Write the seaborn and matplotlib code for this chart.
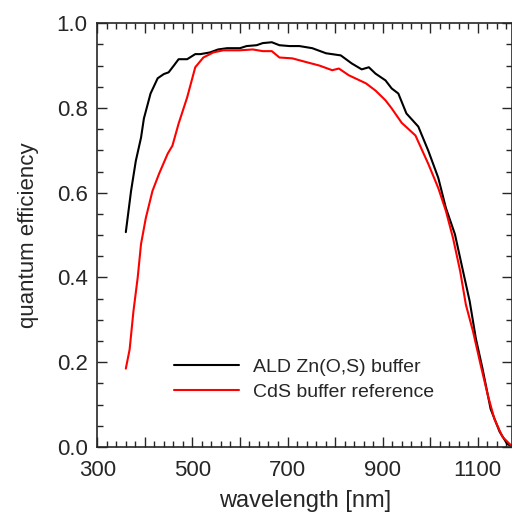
import numpy as np
import matplotlib
matplotlib.use("Agg")
import matplotlib.pyplot as plt
import seaborn as sns
import pandas as pd
from matplotlib.ticker import MultipleLocator, FuncFormatter

# ALD Zn(O,S) buffer curve
wl_ald = [360, 371, 381, 392, 398, 412, 427, 440, 450, 461, 471, 489, 506, 517, 537, 554,
          573, 600, 614, 635, 648, 667, 683, 704, 725, 752, 781, 812, 835, 856, 871, 885,
          906, 919, 933, 950, 975, 996, 1017, 1033, 1052, 1069, 1083, 1096, 1110, 1127,
          1146, 1162, 1175]
qe_ald = [0.507, 0.604, 0.675, 0.73, 0.775, 0.834, 0.87, 0.88, 0.884, 0.90, 0.915, 0.915,
          0.927, 0.927, 0.931, 0.938, 0.941, 0.941, 0.946, 0.948, 0.953, 0.955, 0.948, 0.946,
          0.946, 0.941, 0.929, 0.924, 0.905, 0.891, 0.896, 0.881, 0.865, 0.846, 0.834, 0.787,
          0.756, 0.699, 0.635, 0.564, 0.502, 0.415, 0.344, 0.256, 0.185, 0.09, 0.036, 0.007,
          0.0]

# CdS buffer reference curve
wl_cds = [360, 368, 376, 385, 392, 402, 416, 430, 448, 458, 471, 489, 506, 523, 544, 565,
          600, 627, 648, 667, 683, 710, 740, 767, 794, 808, 829, 865, 885, 906, 919, 940,
          969, 996, 1017, 1033, 1048, 1063, 1075, 1090, 1106, 1121, 1135, 1152, 1169, 1175]
qe_cds = [0.185, 0.23, 0.32, 0.40, 0.479, 0.54, 0.604, 0.645, 0.692, 0.711, 0.763, 0.825,
          0.896, 0.919, 0.931, 0.936, 0.936, 0.938, 0.934, 0.934, 0.919, 0.917, 0.908, 0.90,
          0.889, 0.893, 0.877, 0.858, 0.841, 0.818, 0.799, 0.765, 0.735, 0.668, 0.611, 0.557,
          0.493, 0.415, 0.336, 0.273, 0.194, 0.123, 0.066, 0.024, 0.005, 0.0]

labels = ["ALD Zn(O,S) buffer", "CdS buffer reference"]
colors = ["black", "red"]

df = pd.concat([
    pd.DataFrame({"wl": wl_ald, "qe": qe_ald, "sample": labels[0]}),
    pd.DataFrame({"wl": wl_cds, "qe": qe_cds, "sample": labels[1]}),
])

sns.set_style("ticks")
plt.rcParams["font.family"] = ["Liberation Sans", "DejaVu Sans"]

fig = plt.figure(figsize=(5.12, 5.15), dpi=100)
ax = fig.add_axes([0.19, 0.132, 0.81, 0.823])

sns.lineplot(data=df, x="wl", y="qe", hue="sample", palette=colors, sort=False,
             linewidth=1.5, ax=ax)

ax.set_xlim(300, 1172)
ax.set_ylim(0, 1.0)
ax.xaxis.set_major_locator(MultipleLocator(100))
ax.xaxis.set_minor_locator(MultipleLocator(20))
ax.xaxis.set_major_formatter(FuncFormatter(lambda v, p: f"{v:.0f}" if round(v - 300) % 200 == 0 else ""))
ax.yaxis.set_major_locator(MultipleLocator(0.2))
ax.yaxis.set_minor_locator(MultipleLocator(0.05))
ax.yaxis.set_major_formatter(FuncFormatter(lambda v, p: f"{v:.1f}"))
ax.tick_params(which="both", direction="in", top=True, right=True, labelsize=16, width=1)
ax.tick_params(which="major", length=7)
ax.tick_params(which="minor", length=4)
ax.tick_params(axis="x", which="major", pad=9)
ax.tick_params(axis="y", which="major", pad=7)
for s in ax.spines.values():
    s.set_linewidth(1.2)

ax.set_xlabel("wavelength [nm]", fontsize=17, labelpad=7)
ax.set_ylabel("quantum efficiency", fontsize=16, labelpad=13)

ax.legend(loc="lower left", bbox_to_anchor=(0.143, 0.068), frameon=False, fontsize=14,
          handlelength=3.35, handletextpad=0.72, labelspacing=0.35, title=None)

fig.savefig("out.png", dpi=100)
